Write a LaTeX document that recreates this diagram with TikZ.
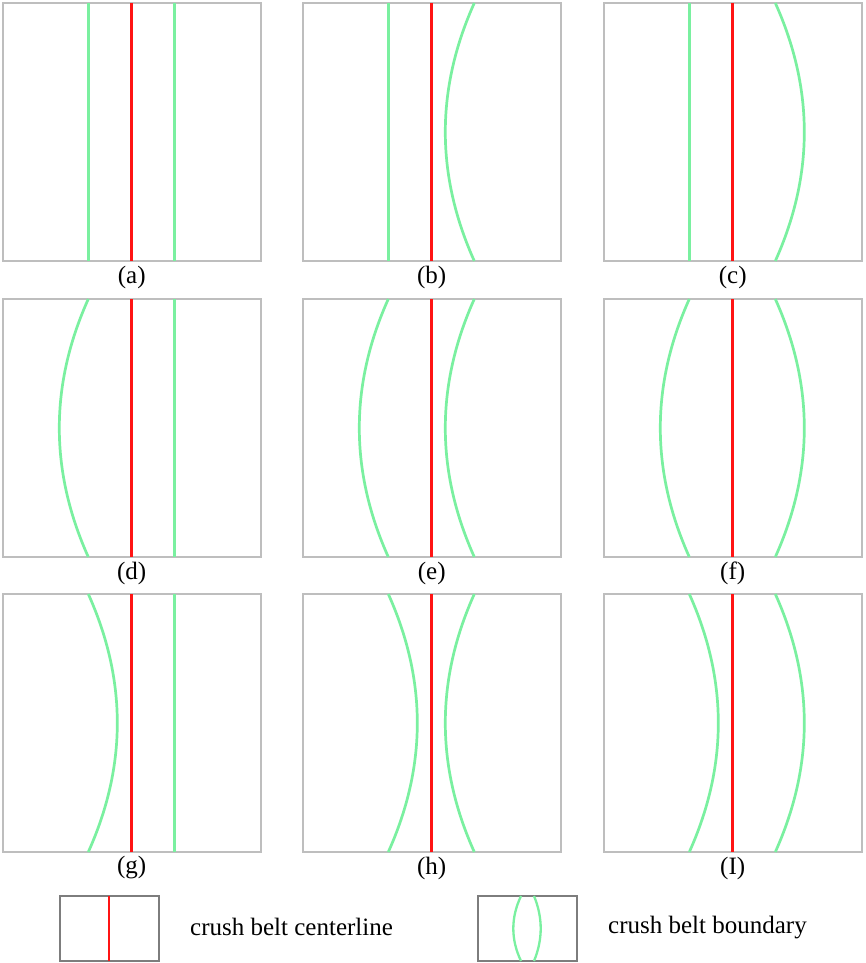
\documentclass[tikz,border=0pt]{standalone}
\usepackage{fontspec}
\setmainfont{Liberation Serif}
\definecolor{beltgreen}{RGB}{122,240,160}
\definecolor{boxgray}{RGB}{190,190,190}
\definecolor{leggray}{RGB}{125,125,125}
\definecolor{cred}{RGB}{255,20,20}
\tikzset{
  panelbox/.style={draw=boxgray, line width=2.8pt},
  legbox/.style={draw=leggray, line width=1.8pt},
  belt/.style={draw=beltgreen, line width=2.7pt},
  centre/.style={draw=cred, line width=2.7pt},
  plabel/.style={font=\fontsize{25}{28}\selectfont, inner sep=0pt},
  legtext/.style={font=\fontsize{25}{28}\selectfont, inner sep=0pt, anchor=base west}
}
\newcommand\crbelt[4]{%
  \draw[belt] (#1,#2) .. controls ({#1+4*(#4)/3},{#2+((#3)-(#2))/3}) and ({#1+4*(#4)/3},{#2+2*((#3)-(#2))/3}) .. (#1,#3);}
\begin{document}
\begin{tikzpicture}[x=1pt,y=-1pt]
\useasboundingbox[fill=white] (0,0) rectangle (865,963);
\foreach \n/\px/\py/\dl/\dr/\t in {a/3/3/0/0/(a), b/303/3/0/-29/(b), c/604/3/0/29/(c),
  d/3/299/-29/0/(d), e/303/299/-29/-29/(e), f/604/299/-29/29/(f),
  g/3/594/29/0/(g), h/303/594/29/-29/(h), I/604/594/29/29/(I)}{
  \coordinate (tl\n) at (\px,\py);
  \coordinate (br\n) at ({\px+258},{\py+258});
  \draw[panelbox] (tl\n) rectangle (br\n);
  \coordinate (rt\n) at ({\px+128.7},\py);
  \coordinate (rb\n) at ({\px+128.7},{\py+258});
  \draw[centre] (rt\n) -- (rb\n);
  \crbelt{\px+85.3}{\py}{\py+258}{\dl}
  \crbelt{\px+171.3}{\py}{\py+258}{\dr}
  \node[plabel] (lab\n) at ({\px+128.7},{\py+274}) {\t};
}
% legend
\coordinate (l1a) at (60,896);
\coordinate (l1b) at (159,961);
\draw[legbox] (l1a) rectangle (l1b);
\coordinate (l1t) at (109.3,896);
\coordinate (l1d) at (109.3,961);
\draw[centre, line width=2.3pt] (l1t) -- (l1d);
\node[legtext] (t1) at (190,935) {crush belt centerline};
\coordinate (l2a) at (478,896);
\coordinate (l2b) at (577,961);
\draw[legbox] (l2a) rectangle (l2b);
\begin{scope}[belt/.append style={line width=2.3pt}]
\crbelt{521}{896}{961}{-7.7}
\crbelt{534}{896}{961}{6.7}
\end{scope}
\node[legtext] (t2) at (608,933) {crush belt boundary};
\end{tikzpicture}
\end{document}
